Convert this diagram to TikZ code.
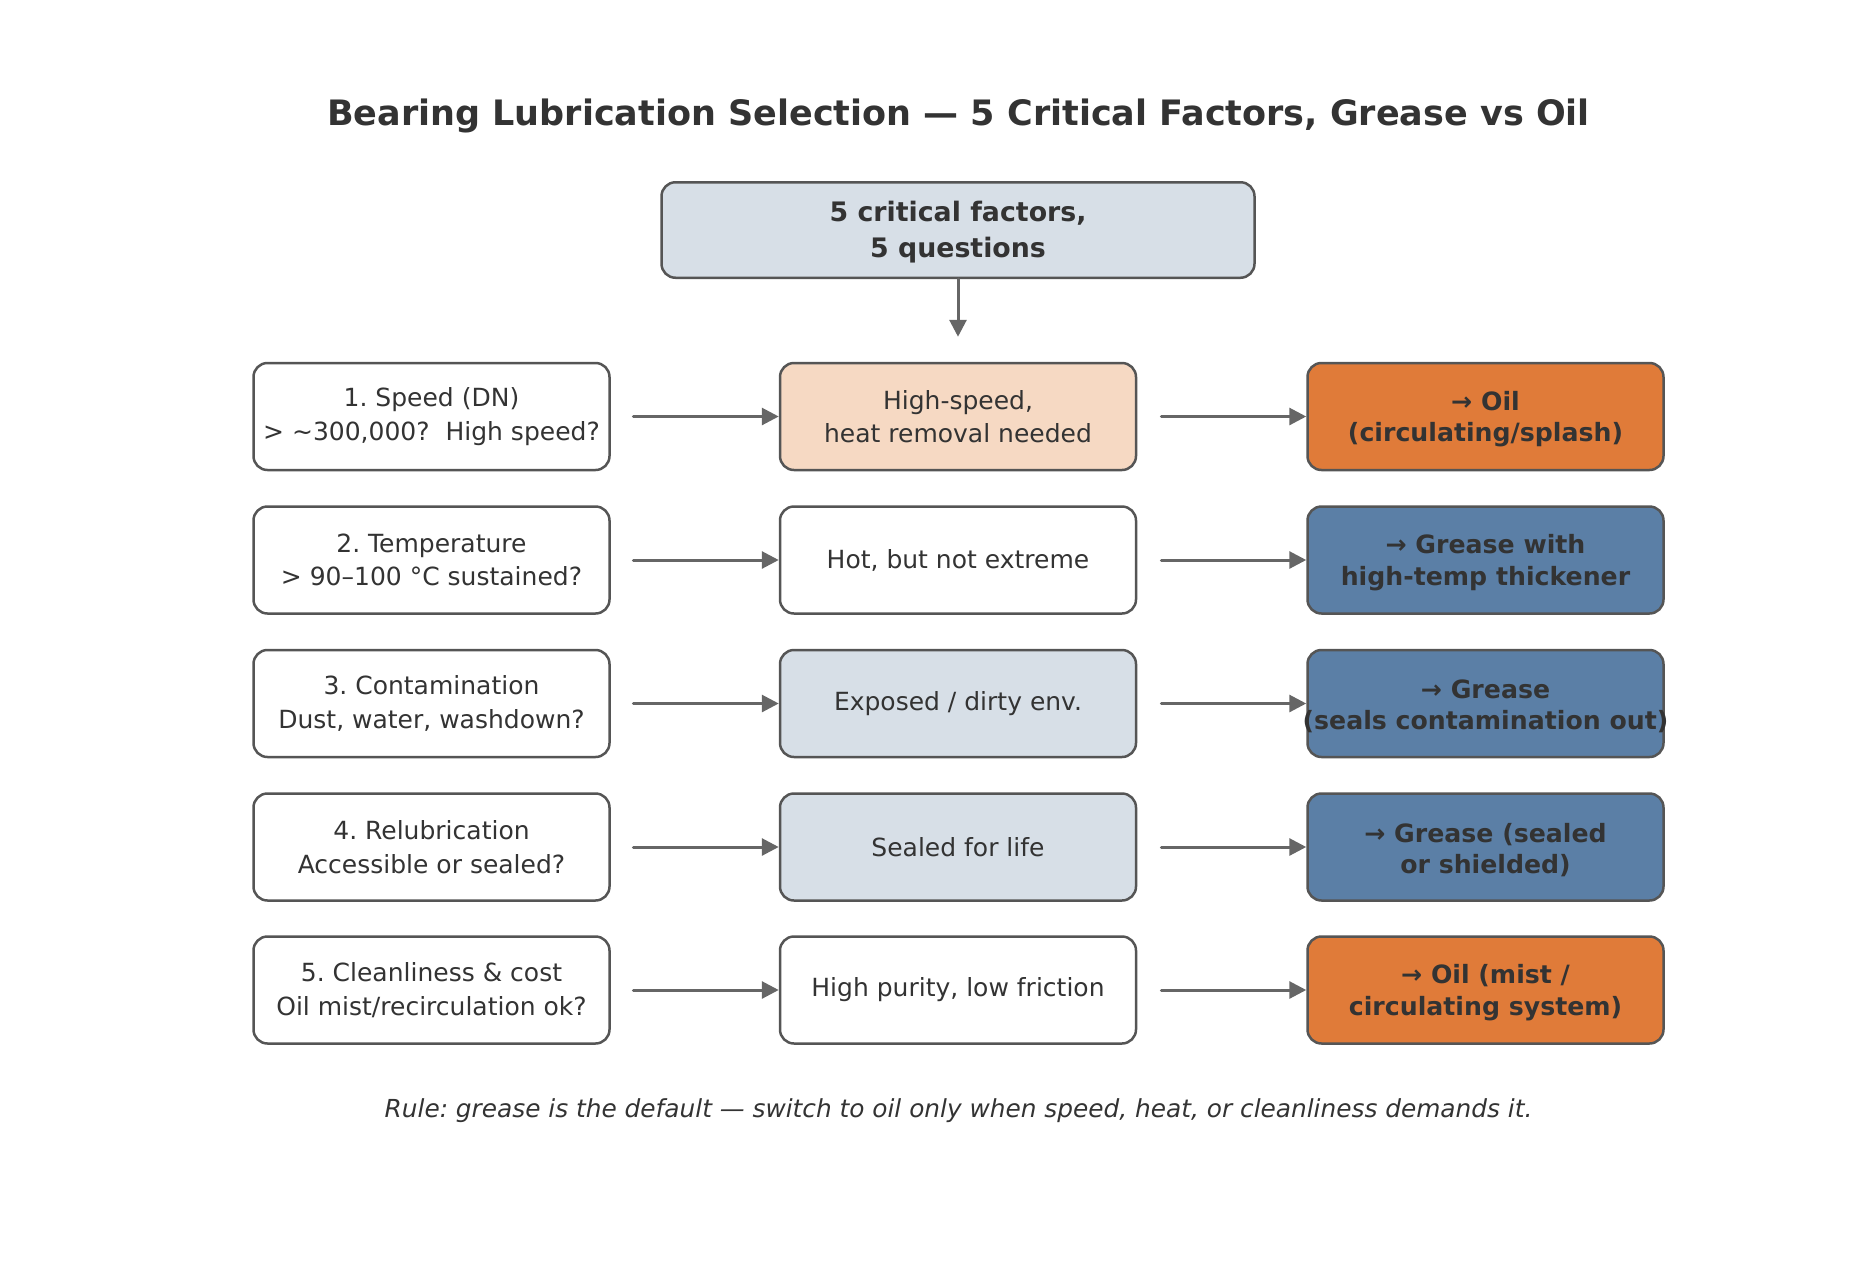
\documentclass[tikz,border=0pt]{standalone}
\usepackage{fontspec}
\setmainfont{DejaVu Sans}
\usetikzlibrary{arrows.meta,positioning,calc}
\definecolor{txt}{HTML}{333333}
\definecolor{edge}{HTML}{555555}
\definecolor{arr}{HTML}{666666}
\definecolor{lightb}{HTML}{D7DFE7}
\definecolor{peach}{HTML}{F6D9C3}
\definecolor{orng}{HTML}{E07B39}
\definecolor{blu}{HTML}{5B7FA6}
\tikzset{
  box/.style={draw=edge, line width=1.25pt, rounded corners=7pt, minimum width=178pt, minimum height=53.5pt, align=center, text=txt, font=\fontsize{12.5}{16.7}\selectfont, inner sep=1pt},
  topbox/.style={box, fill=lightb, minimum width=296.5pt, minimum height=47.75pt},
  toptext/.style={align=center, text=txt, inner sep=0pt, font=\bfseries\fontsize{13.4}{18}\selectfont},
  qbox/.style={box, fill=white},
  wbox/.style={box, fill=white},
  lbox/.style={box, fill=lightb},
  pbox/.style={box, fill=peach},
  obox/.style={box, fill=orng},
  bbox/.style={box, fill=blu},
  rtext/.style={align=center, text=txt, inner sep=0pt, font=\bfseries\fontsize{12.6}{15.7}\selectfont},
  conn/.style={draw=arr, line width=1.5pt, line cap=round, -{Triangle[length=8.5pt,width=8.5pt]}}
}
\begin{document}
\frenchspacing
\begin{tikzpicture}[x=0.5pt,y=-0.5pt]
\useasboundingbox (0,0) rectangle (1870,1275);
\node[font=\bfseries\fontsize{17.5}{20}\selectfont, text=txt] (title) at (958.5,116) {Bearing Lubrication Selection — 5 Critical Factors, Grease vs Oil};
\node[topbox] (T) at (958,230) {};
\node[toptext] (Tt) at ([yshift=-1.2pt]T.center) {5 critical factors,\\5 questions};

\node[qbox] (L1) at (431.5,416.5) {1. Speed (DN)\\> \textasciitilde300,000?\ \ High speed?};
\node[pbox] (M1) at (958,416.5) {High-speed,\\heat removal needed};
\node[obox] (R1) at (1485.5,416.5) {};
\node[rtext] (R1t) at ([yshift=-1.4pt]R1.center) {→ Oil\\(circulating/splash)};

\node[qbox] (L2) at (431.5,560) {2. Temperature\\> 90–100 °C sustained?};
\node[wbox] (M2) at (958,560) {Hot, but not extreme};
\node[bbox] (R2) at (1485.5,560) {};
\node[rtext] (R2t) at ([yshift=-1.4pt]R2.center) {→ Grease with\\high-temp thickener};

\node[qbox] (L3) at (431.5,703.5) {3. Contamination\\Dust, water, washdown?};
\node[lbox] (M3) at (958,703.5) {Exposed / dirty env.};
\node[bbox] (R3) at (1485.5,703.5) {};
\node[rtext] (R3t) at ([yshift=-1.4pt]R3.center) {→ Grease\\(seals contamination out)};

\node[qbox] (L4) at (431.5,847) {4. Relubrication\\Accessible or sealed?};
\node[lbox] (M4) at (958,847) {Sealed for life};
\node[bbox] (R4) at (1485.5,847) {};
\node[rtext] (R4t) at ([yshift=-1.4pt]R4.center) {→ Grease (sealed\\or shielded)};

\node[qbox] (L5) at (431.5,990) {5. Cleanliness \& cost\\Oil mist/recirculation ok?};
\node[wbox] (M5) at (958,990) {High purity, low friction};
\node[obox] (R5) at (1485.5,990) {};
\node[rtext] (R5t) at ([yshift=-1.4pt]R5.center) {→ Oil (mist /\\circulating system)};

\node[font=\itshape\fontsize{12.4}{14}\selectfont, text=txt] (foot) at (958.5,1111) {Rule: grease is the default — switch to oil only when speed, heat, or cleanliness demands it.};

\coordinate (tip) at ($(M1.north)+(0,-25)$);
\draw[conn] (T.south) -- (tip);
\foreach \i in {1,...,5}{
  \draw[conn] ([xshift=11.25pt]L\i.east) -- (M\i.west);
  \draw[conn] ([xshift=12pt]M\i.east) -- (R\i.west);
}
\end{tikzpicture}
\end{document}
